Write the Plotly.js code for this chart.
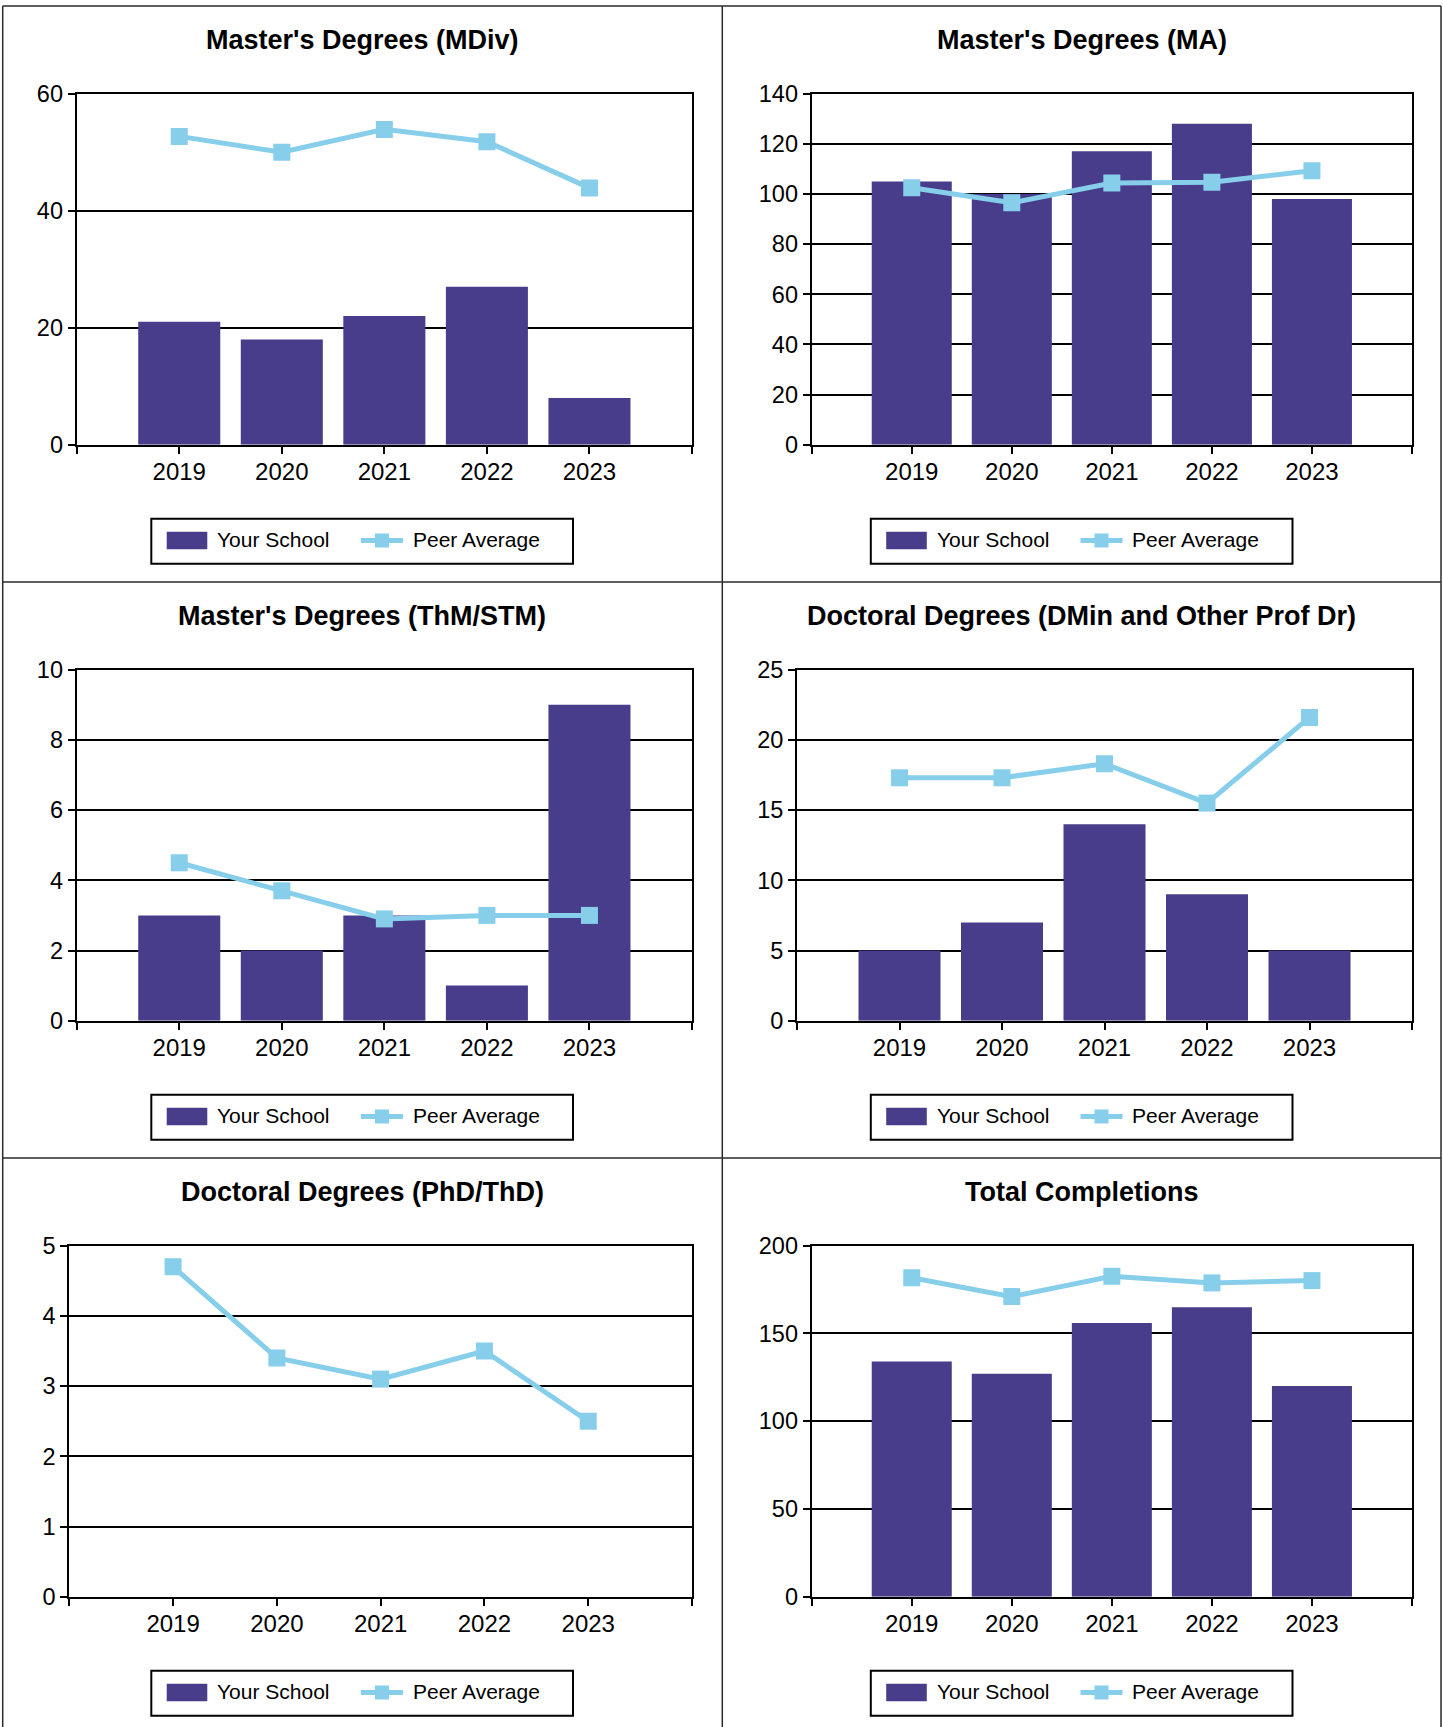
<!DOCTYPE html>
<html>
<head>
<meta charset="utf-8">
<script src="https://cdn.plot.ly/plotly-3.0.1.min.js"></script>
<style>
  html, body { margin: 0; padding: 0; background: #ffffff; }
  #chart { width: 1443px; height: 1727px; }
</style>
</head>
<body>
<div id="chart"></div>
<script>
// ---------- data ----------
const years = [2019, 2020, 2021, 2022, 2023];

const titles = [
  "Master's Degrees (MDiv)",
  "Master's Degrees (MA)",
  "Master's Degrees (ThM/STM)",
  "Doctoral Degrees (DMin and Other Prof Dr)",
  "Doctoral Degrees (PhD/ThD)",
  "Total Completions"
];

const mdivSchool = [21, 18, 22, 27, 8];
const mdivPeer = [52.7, 50.0, 53.9, 51.8, 43.9];

const maSchool = [105, 100, 117, 128, 98];
const maPeer = [102.5, 96.5, 104.4, 104.7, 109.3];

const thmSchool = [3, 2, 3, 1, 9];
const thmPeer = [4.5, 3.7, 2.9, 3.0, 3.0];

const dminSchool = [5, 7, 14, 9, 5];
const dminPeer = [17.3, 17.3, 18.3, 15.5, 21.6];

const phdSchool = [0, 0, 0, 0, 0];
const phdPeer = [4.7, 3.4, 3.1, 3.5, 2.5];

const totalSchool = [134, 127, 156, 165, 120];
const totalPeer = [181.7, 171.0, 182.6, 178.8, 180.1];

const yMax = [60, 140, 10, 25, 5, 200];
const yStep = [20, 20, 2, 5, 1, 50];

const seriesNames = ["Your School", "Peer Average"];

// ---------- layout geometry (pixels) ----------
const W = 1443, H = 1727;
const rowTop = [6, 582, 1158];
const plotTopOff = 87.7, plotBotOff = 438.7;
const plotX = [
  [76.7, 692], [811.7, 1412],
  [76.7, 692], [797, 1412],
  [69.3, 692], [811.7, 1412]
];
const colCenter = [362, 1081.5];
const titleMidOff = 34;

const schoolSets = [mdivSchool, maSchool, thmSchool, dminSchool, phdSchool, totalSchool];
const peerSets = [mdivPeer, maPeer, thmPeer, dminPeer, phdPeer, totalPeer];

const FONT = "Liberation Sans, Arial, Helvetica, sans-serif";
const BAR = "#483D8B";
const PEER = "#87CEEB";

const px2x = p => p / W;
const px2y = p => 1 - p / H;

const data = [];
const layout = {
  width: W, height: H,
  margin: {l: 0, r: 0, t: 0, b: 0},
  paper_bgcolor: "#ffffff",
  plot_bgcolor: "#ffffff",
  font: {family: FONT, color: "#000000", size: 23},
  showlegend: false,
  annotations: [],
  shapes: []
};

const rectPx = (x0, y0, x1, y1, fill, lineColor, lineWidth) => layout.shapes.push({
  type: "rect", xref: "paper", yref: "paper",
  x0: px2x(x0), x1: px2x(x1), y0: px2y(y1), y1: px2y(y0),
  fillcolor: fill, line: {color: lineColor, width: lineWidth}
});
const linePx = (x0, y0, x1, y1, color, width) => layout.shapes.push({
  type: "line", xref: "paper", yref: "paper",
  x0: px2x(x0), y0: px2y(y0), x1: px2x(x1), y1: px2y(y1),
  line: {color: color, width: width}
});
const textPx = (x, y, txt, size, xanchor) => layout.annotations.push({
  xref: "paper", yref: "paper", x: px2x(x), y: px2y(y),
  xanchor: xanchor, yanchor: "middle", text: txt, showarrow: false,
  font: {family: FONT, size: size, color: "#000"}
});

for (let i = 0; i < 6; i++) {
  const row = Math.floor(i / 2), col = i % 2;
  const sfx = i === 0 ? "" : String(i + 1);
  const xa = "x" + sfx, ya = "y" + sfx;

  data.push({
    type: "bar",
    x: years, y: schoolSets[i],
    xaxis: xa, yaxis: ya,
    name: seriesNames[0],
    marker: {color: BAR, line: {width: 0}},
    width: 0.8,
    hoverinfo: "x+y+name"
  });
  data.push({
    type: "scatter", mode: "lines+markers",
    x: years, y: peerSets[i],
    xaxis: xa, yaxis: ya,
    name: seriesNames[1],
    line: {color: PEER, width: 5},
    marker: {color: PEER, symbol: "square", size: 17},
    hoverinfo: "x+y+name"
  });

  const top = rowTop[row] + plotTopOff, bot = rowTop[row] + plotBotOff;
  const tickVals = [years[0] - 1].concat(years, [years[years.length - 1] + 1]);
  const tickText = [""].concat(years.map(String), [""]);

  layout["xaxis" + sfx] = {
    domain: [px2x(plotX[i][0]), px2x(plotX[i][1])],
    anchor: ya,
    range: [years[0] - 1, years[years.length - 1] + 1],
    tickmode: "array", tickvals: tickVals, ticktext: tickText,
    showgrid: false, zeroline: false,
    showline: true, linecolor: "#000", linewidth: 2, mirror: true,
    ticks: "outside", ticklen: 7, tickwidth: 2, tickcolor: "#000",
    tickfont: {family: FONT, size: 24, color: "#000"},
    ticklabelstandoff: -3,
    fixedrange: true
  };
  layout["yaxis" + sfx] = {
    domain: [px2y(bot), px2y(top)],
    anchor: xa,
    range: [0, yMax[i]],
    tickmode: "linear", tick0: 0, dtick: yStep[i],
    showgrid: true, gridcolor: "#000", gridwidth: 2,
    zeroline: false,
    showline: true, linecolor: "#000", linewidth: 2, mirror: true,
    ticks: "outside", ticklen: 7, tickwidth: 2, tickcolor: "#000",
    tickfont: {family: FONT, size: 23.5, color: "#000"},
    fixedrange: true
  };

  // title
  layout.annotations.push({
    xref: "paper", yref: "paper",
    x: px2x(colCenter[col]), y: px2y(rowTop[row] + titleMidOff),
    xanchor: "center", yanchor: "middle",
    text: "<b>" + titles[i] + "</b>",
    showarrow: false,
    font: {family: FONT, size: 27, color: "#000"}
  });

  // legend box (drawn per panel)
  const c = colCenter[col], r = rowTop[row];
  rectPx(c - 210.7, r + 512.7, c + 211, r + 557.7, "#ffffff", "#000000", 2);
  rectPx(c - 195.3, r + 525.7, c - 154.7, r + 543.3, BAR, BAR, 0);
  textPx(c - 146.7, r + 533.5, seriesNames[0], 21, "left");
  linePx(c - 1, r + 534.5, c + 41, r + 534.5, PEER, 5);
  rectPx(c + 13, r + 527.5, c + 27, r + 541.5, PEER, PEER, 0);
  textPx(c + 48.6, r + 533.5, seriesNames[1], 21, "left");
}

// panel frame lines
const FR = "#2a2a2a";
linePx(2.7, 6, 1441, 6, FR, 1.5);
linePx(2.7, 6, 2.7, H, FR, 1.5);
linePx(1441, 6, 1441, H, FR, 1.5);
linePx(722.3, 6, 722.3, H, FR, 1.5);
linePx(2.7, 582, 1441, 582, FR, 1.5);
linePx(2.7, 1158, 1441, 1158, FR, 1.5);

Plotly.newPlot("chart", data, layout, {staticPlot: true, displayModeBar: false});
</script>
</body>
</html>
